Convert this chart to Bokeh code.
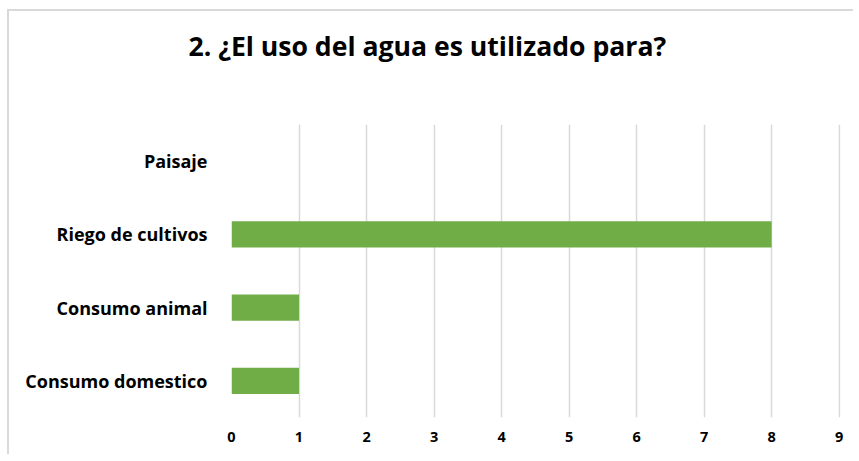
from bokeh.plotting import figure
from bokeh.models import FactorRange, Range1d, FixedTicker, Title
from bokeh.embed import file_html
from bokeh.resources import INLINE

categories = ["Consumo domestico", "Consumo animal", "Riego de cultivos", "Paisaje"]
values = [1, 1, 8, 0]
x_ticks = [0, 1, 2, 3, 4, 5, 6, 7, 8, 9]
title_text = "2. ¿El uso del agua es utilizado para?"

FONT = "Open Sans"

p = figure(
    width=846, height=445,
    y_range=FactorRange(*categories, range_padding=0),
    x_range=Range1d(0, 9.02),
    output_backend="svg", toolbar_location=None,
    min_border_left=222, min_border_right=15,
    min_border_top=113, min_border_bottom=39,
    title=title_text,
)
p.styles = {
    "border-left": "2px solid #d9d9d9",
    "border-top": "2px solid #d9d9d9",
    "margin-left": "7px",
    "margin-top": "9px",
}

# empty spacer between the title and the plot frame
p.add_layout(Title(text=" ", text_font_size="1px", standoff=53), "above")

p.hbar(y=categories, right=values, height=0.36, color="#70AD47", line_color=None)

p.title.text_font = FONT
p.title.text_font_size = "26.6px"
p.title.text_font_style = "bold"
p.title.text_color = "#000000"
p.title.align = "left"
p.title.offset = -43
p.title.standoff = 10

p.outline_line_color = None
p.ygrid.grid_line_color = None
p.xgrid.grid_line_color = "#d9d9d9"
p.xgrid.grid_line_width = 1.5

p.xaxis.ticker = FixedTicker(ticks=x_ticks)
p.xaxis.axis_line_color = None
p.xaxis.major_tick_line_color = None
p.xaxis.minor_tick_line_color = None
p.xaxis.major_label_text_font = FONT
p.xaxis.major_label_text_font_style = "bold"
p.xaxis.major_label_text_font_size = "14.5px"
p.xaxis.major_label_text_color = "#000000"
p.xaxis.major_label_standoff = 8

p.yaxis.axis_line_color = None
p.yaxis.major_tick_line_color = None
p.yaxis.major_tick_out = 0
p.yaxis.major_label_text_font = FONT
p.yaxis.major_label_text_font_style = "bold"
p.yaxis.major_label_text_font_size = "18px"
p.yaxis.major_label_text_color = "#000000"
p.yaxis.major_label_standoff = 24

p.background_fill_color = "white"
p.border_fill_color = "white"

open("out.html", "w").write(file_html(p, INLINE))
